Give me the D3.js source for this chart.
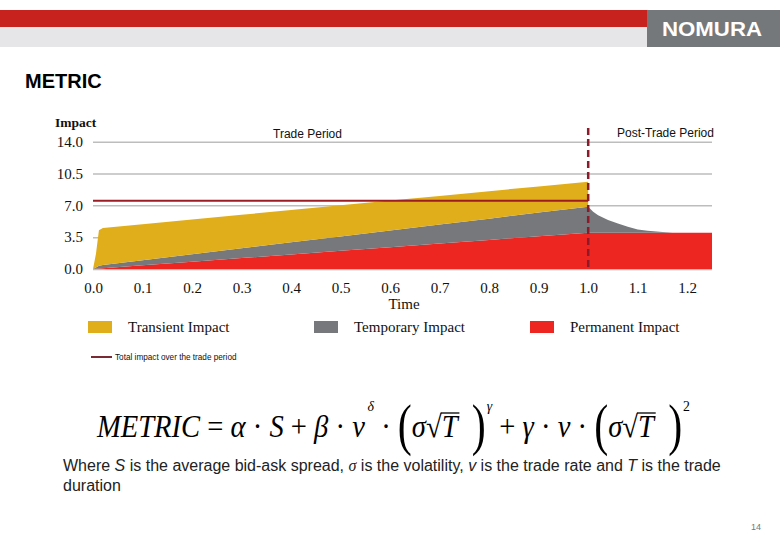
<!DOCTYPE html>
<html><head><meta charset="utf-8">
<script src="https://cdn.jsdelivr.net/npm/d3@7"></script>
<style>
body{margin:0;background:#fff;}
svg{display:block;}
</style></head>
<body><svg id="c" width="780" height="540"></svg>
<script>
// ---- data ----
const time      = [0, 0.006, 0.012, 0.02, 0.1, 0.2, 0.3, 0.4, 0.5, 0.6, 0.7, 0.8, 0.9, 1.0, 1.0, 1.01, 1.02, 1.04, 1.06, 1.08, 1.1, 1.12, 1.15, 1.17, 1.2, 1.25];
const permanent = [0, 0.02, 0.05, 0.08, 0.4, 0.8, 1.2, 1.6, 2.0, 2.4, 2.8, 3.2, 3.6, 4.0, 4.0, 4.0, 4.0, 4.0, 4.0, 4.0, 4.0, 4.0, 4.0, 4.0, 4.0, 4.0];
const temporary = [0, 0.15, 0.3, 0.37, 0.57, 0.83, 1.08, 1.33, 1.58, 1.84, 2.09, 2.34, 2.6, 2.85, 2.85, 2.3, 1.9, 1.4, 1.0, 0.65, 0.35, 0.2, 0.06, 0, 0, 0];
const transient = [0, 1.5, 3.9, 4.05, 3.95, 3.81, 3.68, 3.55, 3.42, 3.28, 3.15, 3.02, 2.88, 2.75, 0, 0, 0, 0, 0, 0, 0, 0, 0, 0, 0, 0];
const totalLineX = [0, 1.0];
const totalLineY = [7.5, 7.5];
const yTicks = [0, 3.5, 7.0, 10.5, 14.0];
const xTicks = [0, 0.1, 0.2, 0.3, 0.4, 0.5, 0.6, 0.7, 0.8, 0.9, 1.0, 1.1, 1.2];
const seriesNames = ["Transient Impact", "Temporary Impact", "Permanent Impact"];
const seriesKeys = ["transient", "temporary", "permanent"];
const seriesColors = ["#e0ad1b", "#76787b", "#ee2622"];
const tradeEnd = 1.0;

const svg = d3.select("#c");
const SERIF = "Liberation Serif, Times New Roman, serif";
const SANS = "Liberation Sans, Arial, sans-serif";

// ---- header ----
svg.append("rect").attr("x",0).attr("y",10).attr("width",647).attr("height",17).attr("fill","#c8221f");
svg.append("rect").attr("x",0).attr("y",27).attr("width",647).attr("height",20).attr("fill","#e6e6e8");
svg.append("rect").attr("x",647).attr("y",10).attr("width",133).attr("height",37).attr("fill","#75787b");
svg.append("text").attr("x",662).attr("y",36).attr("textLength",100).attr("lengthAdjust","spacingAndGlyphs")
  .attr("font-family",SANS).attr("font-weight","bold").attr("font-size",20)
  .attr("fill","#fff").text("NOMURA");

svg.append("text").attr("x",25).attr("y",88).attr("font-family",SANS)
  .attr("font-weight","bold").attr("font-size",20).attr("fill","#000").text("METRIC");

// ---- chart ----
const x = d3.scaleLinear().domain([0,1.25]).range([93,712]);
const y = d3.scaleLinear().domain([0,14]).range([269,141.7]);

svg.append("g").attr("transform","translate(93,0)")
  .call(d3.axisLeft(y).tickValues(yTicks).tickSize(-619).tickFormat(""))
  .call(g=>g.select(".domain").remove())
  .call(g=>g.selectAll("line").attr("stroke","#bdbdbd").attr("stroke-width",1.5));

const rows = time.map((t,i)=>({t, permanent:permanent[i], temporary:temporary[i], transient:transient[i]}));
const layers = d3.stack().keys(["permanent","temporary","transient"])(rows);
const area = d3.area().x(d=>x(d.data.t)).y0(d=>y(d[0])).y1(d=>y(d[1]));
const colorOf = {};
seriesKeys.forEach((k,i)=>colorOf[k]=seriesColors[i]);
svg.append("g").selectAll("path").data(layers).join("path")
  .attr("d",area).attr("fill",d=>colorOf[d.key]);

svg.append("g").attr("transform","translate(93,0)")
  .call(d3.axisLeft(y).tickValues(yTicks).tickSize(0).tickPadding(10).tickFormat(d3.format(".1f")))
  .call(g=>g.select(".domain").remove())
  .call(g=>g.selectAll("text").attr("font-family",SERIF).attr("font-size",15).attr("fill","#111"));

svg.append("g").attr("transform","translate(0,269)")
  .call(d3.axisBottom(x).tickValues(xTicks).tickSize(0).tickPadding(13).tickFormat(d3.format(".1f")))
  .call(g=>g.select(".domain").remove())
  .call(g=>g.selectAll("text").attr("font-family",SERIF).attr("font-size",15).attr("fill","#111"));

const line = d3.line().x((d,i)=>x(totalLineX[i])).y(d=>y(d));
svg.append("path").datum(totalLineY).attr("d",line).attr("stroke","#9b1c22").attr("stroke-width",2).attr("fill","none");

svg.append("line").attr("x1",x(tradeEnd)).attr("x2",x(tradeEnd)).attr("y1",128).attr("y2",270)
  .attr("stroke","#8b1a2a").attr("stroke-width",2.5).attr("stroke-dasharray","7,4");

svg.append("text").attr("x",55).attr("y",127).attr("font-family",SERIF)
  .attr("font-size",13.5).attr("font-weight","bold").attr("fill","#111").text("Impact");
svg.append("text").attr("x",404).attr("y",309).attr("text-anchor","middle").attr("font-family",SERIF)
  .attr("font-size",15).attr("fill","#111").text("Time");
svg.append("text").attr("x",273).attr("y",138).attr("font-family",SANS)
  .attr("font-size",12).attr("fill","#111").text("Trade Period");
svg.append("text").attr("x",617).attr("y",137).attr("font-family",SANS)
  .attr("font-size",12).attr("fill","#111").text("Post-Trade Period");

// legend
const legX = [88, 314, 530];
const leg = svg.append("g").selectAll("g").data(seriesNames).join("g")
  .attr("transform",(d,i)=>`translate(${legX[i]},321)`);
leg.append("rect").attr("width",24).attr("height",12).attr("fill",(d,i)=>seriesColors[i]);
leg.append("text").attr("x",40).attr("y",11).attr("font-family",SERIF)
  .attr("font-size",15).attr("fill","#111").text(d=>d);

svg.append("line").attr("x1",91).attr("x2",112).attr("y1",357).attr("y2",357).attr("stroke","#7a2a35").attr("stroke-width",2);
svg.append("text").attr("x",115).attr("y",360).attr("font-family",SANS)
  .attr("font-size",8.2).attr("fill","#111").text("Total impact over the trade period");

// ---- formula ----
const fg = svg.append("g");
const F = 31, base = 437;
const pieces = [
  {t:"METRIC", it:true}, {t:" = "}, {t:"α", it:true}, {t:" · "}, {t:"S", it:true}, {t:" + "},
  {t:"β", it:true}, {t:" · "}, {t:"v", it:true, after:3}, {t:"δ", it:true, sup:true}, {t:" · "},
  {t:"(", big:true}, {t:"σ", it:true}, {t:"√"}, {t:"T", it:true, bar:true}, {t:"  "}, {t:")", big:true, after:1}, {t:"γ", it:true, sup:true},
  {t:" + "}, {t:"γ", it:true}, {t:" · "}, {t:"v", it:true}, {t:" · "},
  {t:"(", big:true}, {t:"σ", it:true}, {t:"√"}, {t:"T", it:true, bar:true}, {t:"  "}, {t:")", big:true, after:1}, {t:"2", sup:true}
];
let cx = 0, radTop = base - 24;
pieces.forEach(p=>{
  const size = p.big ? 57 : (p.sup ? 15 : F);
  const ty = p.big ? base+7 : (p.sup ? base-26 : base);
  const el = fg.append("text").attr("x",cx).attr("y",ty)
    .attr("font-family",SERIF).attr("font-size",size)
    .attr("font-style",p.it?"italic":"normal").attr("fill","#000")
    .style("white-space","pre").text(p.t);
  if (p.big) el.attr("transform",`translate(${cx},${ty}) scale(0.8,1) translate(${-cx},${-ty})`);
  let w = el.node().getComputedTextLength();
  if (p.big) w *= 0.8;
  if (p.t === "√") { const b = el.node().getBBox(); radTop = b.y + 4; }
  if (p.bar) fg.append("line").attr("x1",cx-1).attr("x2",cx+w+2).attr("y1",radTop).attr("y2",radTop)
    .attr("stroke","#000").attr("stroke-width",1.3);
  cx += w + (p.after||0);
});
const sx = 593 / cx;
fg.attr("transform",`translate(97,0) scale(${sx},1)`);

svg.append("text").attr("x",63).attr("y",471).attr("font-family",SANS).attr("font-size",16).attr("fill","#222")
  .html('Where <tspan font-style="italic">S</tspan> is the average bid-ask spread, <tspan font-family="Liberation Serif" font-style="italic">σ</tspan> is the volatility, <tspan font-style="italic">v</tspan> is the trade rate and <tspan font-style="italic">T</tspan> is the trade');
svg.append("text").attr("x",63).attr("y",491).attr("font-family",SANS).attr("font-size",16).attr("fill","#222").text("duration");

svg.append("text").attr("x",761).attr("y",530).attr("text-anchor","end").attr("font-family",SANS)
  .attr("font-size",9).attr("fill","#777").text("14");
</script></body></html>
